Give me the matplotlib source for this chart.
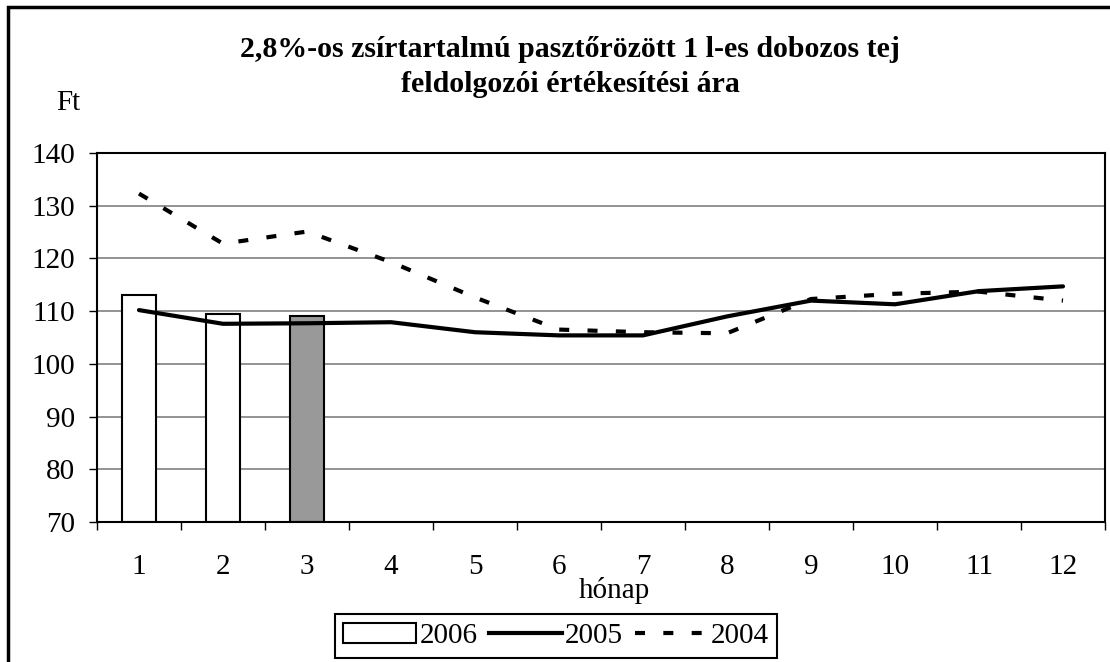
import matplotlib.pyplot as plt
import matplotlib.patches as mpatches
from matplotlib.lines import Line2D

# data
months = [1, 2, 3, 4, 5, 6, 7, 8, 9, 10, 11, 12]
price_2006 = [113.0, 109.5, 109.0]
price_2005 = [110.2, 107.6, 107.7, 107.9, 106.0, 105.4, 105.4, 109.0, 112.0, 111.3, 113.8, 114.7]
price_2004 = [132.3, 122.8, 125.1, 119.3, 112.6, 106.5, 106.0, 105.8, 112.3, 113.3, 113.7, 112.0]
bar_colors = ['white', 'white', '#999999']
y_ticks = [70, 80, 90, 100, 110, 120, 130, 140]

plt.rcParams['font.family'] = ['Liberation Serif', 'DejaVu Serif']

fig = plt.figure(figsize=(11.1, 6.62), dpi=100)
ax = fig.add_axes([97 / 1110, 1 - 522 / 662, 1008 / 1110, 369 / 662])

# grid
for v in y_ticks[1:-1]:
    ax.axhline(v, color='#808080', lw=1.2, zorder=0)

ax.bar(months[:3], [p - 70 for p in price_2006], bottom=70, width=0.4,
       color=bar_colors, edgecolor='black', linewidth=1.5, zorder=2)
ax.plot(months, price_2005, color='black', lw=3, solid_capstyle='round', zorder=3)
ax.plot(months, price_2004, color='black', lw=3, dashes=(2.4, 4.4),
        dash_capstyle='butt', zorder=3)

ax.set_xlim(0.5, 12.5)
ax.set_ylim(70, 140)
ax.set_yticks(y_ticks)
ax.set_xticks(months)
ax.set_xticks([m + 0.5 for m in range(0, 13)], minor=True)
ax.tick_params(axis='x', which='major', length=0, pad=23, labelsize=21)
ax.tick_params(axis='x', which='minor', length=6, width=1, direction='out')
ax.tick_params(axis='y', length=6, width=1, pad=10, labelsize=21)
for s in ax.spines.values():
    s.set_linewidth(1.5)

fig.text(570 / 1110, 1 - 67 / 662,
         '2,8%-os zsírtartalmú pasztőrözött 1 l-es dobozos tej\nfeldolgozói értékesítési ára',
         ha='center', va='center', fontsize=21.5, fontweight='bold', linespacing=1.4)
fig.text(68 / 1110, 1 - 103 / 662, 'Ft', ha='center', va='center', fontsize=21)
fig.text(614 / 1110, 1 - 591 / 662, 'hónap', ha='center', va='center', fontsize=21)

# outer border (right and bottom run off the picture)
fig.patches.append(mpatches.Rectangle((8 / 1110, -0.1), 1.2, 1 - 7 / 662 + 0.1,
                                      transform=fig.transFigure, fill=False,
                                      edgecolor='black', lw=2.5))

handles = [mpatches.Patch(facecolor='white', edgecolor='black', lw=1.5),
           Line2D([], [], color='black', lw=3),
           Line2D([], [], color='black', lw=3, dashes=(2.4, 4.4), dash_capstyle='butt')]
leg = fig.legend(handles, ['2006', '2005', '2004'], loc='center', ncol=3,
                 bbox_to_anchor=(556 / 1110, 1 - 636 / 662), fontsize=21,
                 fancybox=False, framealpha=1, edgecolor='black',
                 handlelength=2.5, handletextpad=0.1, columnspacing=0.4,
                 borderpad=0.3, borderaxespad=0)
leg.get_frame().set_linewidth(1.5)

fig.savefig('out.png', dpi=100)
